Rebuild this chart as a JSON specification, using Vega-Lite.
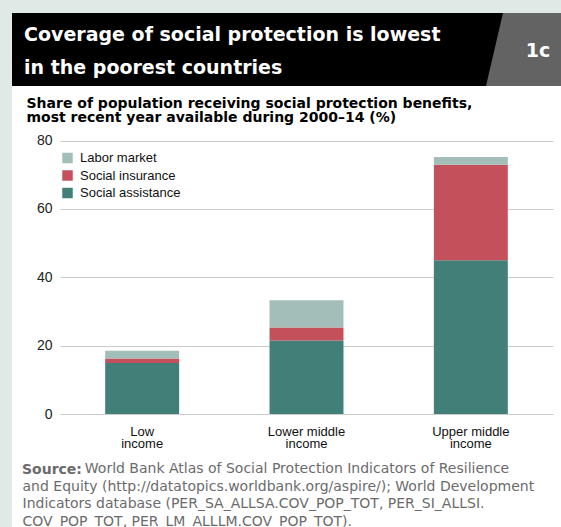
{
  "$schema": "https://vega.github.io/schema/vega-lite/v6.json",
  "background": "#e1e9e6",
  "padding": {"left": 12, "top": 13, "right": 0, "bottom": 0},
  "spacing": 0,
  "config": {
    "view": {"stroke": null},
    "font": "Liberation Sans",
    "axis": {"labelFont": "Liberation Sans", "titleFont": "Liberation Sans"},
    "legend": {"labelFont": "Liberation Sans"}
  },
  "vconcat": [
    {
      "width": 549,
      "height": 73,
      "view": {"fill": "#000000", "stroke": null},
      "layer": [
        {
          "data": {"values": [
            {"line": "Coverage of social protection is lowest"},
            {"line": "in the poorest countries"}
          ]},
          "mark": {"type": "text", "align": "left", "baseline": "middle", "dy": 2, "font": "DejaVu Sans", "fontWeight": "bold", "fontSize": 19, "color": "#ffffff"},
          "encoding": {
            "x": {"datum": 2.19, "type": "quantitative", "scale": {"domain": [0, 100], "nice": false, "zero": false}, "axis": null},
            "y": {"field": "line", "type": "ordinal", "sort": null, "scale": {"type": "point", "padding": 0.64}, "axis": null},
            "text": {"field": "line"}
          }
        },
        {
          "data": {"values": [{"label": "1c"}]},
          "mark": {"type": "point", "shape": "M -0.547 -0.973 L 1 -0.973 L 1 0.973 L -1 0.973 Z", "size": 5625, "filled": true, "color": "#636363", "opacity": 1, "strokeWidth": 0},
          "encoding": {"x": {"datum": 93.17, "type": "quantitative"}}
        },
        {
          "data": {"values": [{"label": "1c"}]},
          "mark": {"type": "text", "align": "center", "baseline": "middle", "dy": 1, "font": "DejaVu Sans", "fontWeight": "bold", "fontSize": 19, "color": "#ffffff"},
          "encoding": {"x": {"datum": 95.81, "type": "quantitative"}, "text": {"field": "label"}}
        }
      ]
    },
    {
      "width": 549,
      "height": 441,
      "view": {"fill": "#ffffff", "stroke": null},
      "title": {
        "text": "Source:", "orient": "bottom", "anchor": "start", "frame": "group",
        "offset": -54.5, "baseline": "alphabetic", "dx": 10,
        "font": "DejaVu Sans", "fontSize": 14, "fontWeight": "bold", "color": "#6b6b6b"
      },
      "data": {"values": [
        {"group": "Low income", "type": "Social assistance", "value": 14.9},
        {"group": "Low income", "type": "Social insurance", "value": 1.3},
        {"group": "Low income", "type": "Labor market", "value": 2.3},
        {"group": "Lower middle income", "type": "Social assistance", "value": 21.5},
        {"group": "Lower middle income", "type": "Social insurance", "value": 3.8},
        {"group": "Lower middle income", "type": "Labor market", "value": 8.0},
        {"group": "Upper middle income", "type": "Social assistance", "value": 45.0},
        {"group": "Upper middle income", "type": "Social insurance", "value": 27.9},
        {"group": "Upper middle income", "type": "Labor market", "value": 2.3}
      ]},
      "transform": [{"window": [{"op": "row_number", "as": "idx"}]}],
      "mark": {"type": "bar"},
      "encoding": {
        "x": {
          "field": "group", "type": "nominal", "sort": null,
          "scale": {"range": [48, 541], "paddingInner": 0.55, "paddingOuter": 0.275},
          "axis": {
            "orient": "bottom", "offset": -113, "domain": false, "ticks": false, "grid": false,
            "labelAngle": 0,
            "labelExpr": "[slice(datum.label, 0, -7), 'income']",
            "labelFontSize": 13, "labelColor": "#111111", "labelPadding": 11, "labelLineHeight": 12.3,
            "title": [
              "\u200b\u00a0\u00a0\u00a0\u00a0\u00a0\u00a0\u00a0\u00a0\u00a0\u00a0\u00a0\u00a0\u00a0\u00a0World Bank Atlas of Social Protection Indicators of Resilience",
              "and Equity (http://datatopics.worldbank.org/aspire/); World Development",
              "Indicators database (PER_SA_ALLSA.COV_POP_TOT, PER_SI_ALLSI.",
              "COV_POP_TOT, PER_LM_ALLLM.COV_POP_TOT)."
            ],
            "titleX": 10, "titleY": 58.5, "titleAlign": "left", "titleAnchor": "start", "titleBaseline": "alphabetic",
            "titleFont": "DejaVu Sans", "titleFontSize": 14, "titleFontWeight": "normal", "titleColor": "#6b6b6b", "titleLineHeight": 17.6
          }
        },
        "y": {
          "field": "value", "type": "quantitative", "stack": "zero",
          "scale": {"domain": [0, 80], "range": [328, 54.5], "nice": false},
          "axis": {
            "orient": "left", "offset": -48, "values": [0, 20, 40, 60, 80],
            "domain": false, "ticks": false, "grid": true, "gridColor": "#cccccc", "gridWidth": 1,
            "labelFontSize": 14, "labelColor": "#222222", "labelPadding": 8,
            "title": [
              "Share of population receiving social protection benefits,",
              "most recent year available during 2000–14 (%)"
            ],
            "titleAngle": 0, "titleAlign": "left", "titleBaseline": "alphabetic",
            "titleX": -34, "titleY": 21.3, "titleFont": "DejaVu Sans", "titleFontSize": 14, "titleFontWeight": "bold",
            "titleColor": "#000000", "titleLineHeight": 14
          }
        },
        "color": {
          "field": "type", "type": "nominal",
          "scale": {"domain": ["Labor market", "Social insurance", "Social assistance"], "range": ["#a3bdb8", "#c4505c", "#417f78"]},
          "legend": {
            "orient": "none", "legendX": 49, "legendY": 138.5, "title": null,
            "symbolType": "square", "symbolSize": 110, "symbolStrokeWidth": 0, "symbolOpacity": 1,
            "labelFontSize": 13, "labelColor": "#111111", "rowPadding": 3.5, "labelOffset": 6
          }
        },
        "order": {"field": "idx", "type": "quantitative"}
      }
    }
  ]
}
